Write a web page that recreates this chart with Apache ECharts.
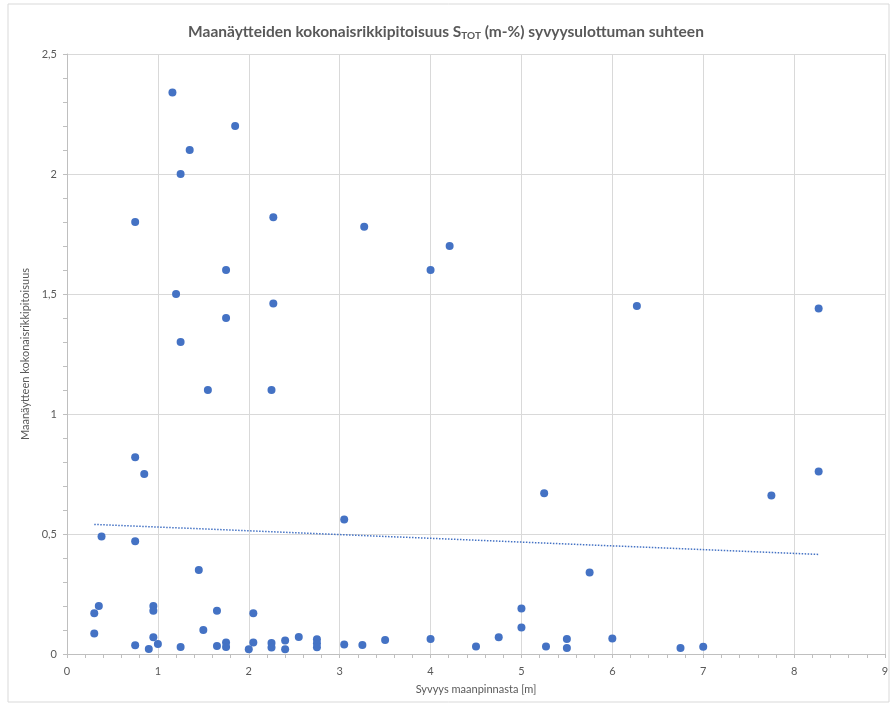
<!DOCTYPE html>
<html>
<head>
<meta charset="utf-8">
<script src="https://cdn.jsdelivr.net/npm/echarts@6/dist/echarts.min.js"></script>
<style>html,body{margin:0;padding:0;background:#fff;}#c{width:892px;height:709px;}</style>
</head>
<body>
<div id="c"></div>
<script>
// Depth [m]
const depth = [
  1.16, 1.85, 1.35, 1.25, 0.75, 2.27, 3.27, 4.21, 1.75, 4.0, 1.2, 2.27, 6.27, 8.27, 1.75, 1.25, 1.55, 2.25,
  0.75, 0.85, 8.27, 5.25, 7.75, 3.05, 0.38, 0.75, 1.45, 5.75,
  0.35, 0.3, 0.95, 0.95, 1.65, 2.05, 5.0, 0.3, 1.5, 5.0, 0.95,
  0.75, 0.9, 1.0, 1.25, 1.65, 1.75, 1.75, 2.0, 2.05, 2.25, 2.25, 2.4, 2.4, 2.55, 2.75, 2.75, 2.75,
  3.05, 3.25, 3.5, 4.0, 4.5, 4.75, 5.27, 5.5, 5.5, 6.0, 6.75, 7.0
];
// Total sulphur content S_TOT (m-%)
const sulphur = [
  2.34, 2.20, 2.10, 2.00, 1.80, 1.82, 1.78, 1.70, 1.60, 1.60, 1.50, 1.46, 1.45, 1.44, 1.40, 1.30, 1.10, 1.10,
  0.82, 0.75, 0.76, 0.67, 0.66, 0.56, 0.49, 0.47, 0.35, 0.34,
  0.20, 0.17, 0.20, 0.18, 0.18, 0.17, 0.19, 0.085, 0.10, 0.11, 0.07,
  0.036, 0.021, 0.042, 0.029, 0.033, 0.048, 0.029, 0.02, 0.048, 0.046, 0.027, 0.056, 0.02, 0.071, 0.061, 0.045, 0.028,
  0.04, 0.038, 0.058, 0.063, 0.031, 0.07, 0.031, 0.062, 0.025, 0.065, 0.025, 0.03
];
// Linear trendline as drawn in the reference
const trendDepth = [0.3, 8.27];
const trendValue = [0.54, 0.415];
const xTicks = [0, 1, 2, 3, 4, 5, 6, 7, 8, 9];
const yTicks = [0, 0.5, 1, 1.5, 2, 2.5];

const fmt = v => String(v).replace('.', ',');
const txt = '#595959';
const font = 'Lato, "Open Sans", sans-serif';

const chart = echarts.init(document.getElementById('c'), null, {renderer: 'canvas'});
chart.setOption({
  animation: false,
  backgroundColor: '#fff',
  graphic: [{
    type: 'rect', shape: {x: 8, y: 4, width: 881, height: 698},
    style: {fill: 'none', stroke: '#d9d9d9', lineWidth: 1}, silent: true, z: -1
  }],
  title: {
    text: '{a|Maanäytteiden kokonaisrikkipitoisuus S}{s|TOT}{a| (m-%) syvyysulottuman suhteen}',
    left: 'center', top: 18,
    textStyle: {
      rich: {
        a: {fontFamily: font, fontSize: 15.5, fontWeight: 'bold', color: txt},
        s: {fontFamily: font, fontSize: 10, fontWeight: 'bold', color: txt, verticalAlign: 'bottom', padding: [8, 0, 0, 0]}
      }
    }
  },
  grid: {left: 67, top: 54, width: 818, height: 600, containLabel: false},
  xAxis: {
    type: 'value', min: xTicks[0], max: xTicks[xTicks.length - 1], interval: 1,
    name: 'Syvyys maanpinnasta [m]', nameLocation: 'middle', nameGap: 30,
    nameTextStyle: {color: txt, fontFamily: font, fontSize: 11},
    axisLine: {show: true, lineStyle: {color: '#bfbfbf'}},
    axisTick: {show: true, length: 4, lineStyle: {color: '#bfbfbf'}},
    minorTick: {show: true, splitNumber: 5, length: 4, lineStyle: {color: '#bfbfbf'}},
    axisLabel: {color: txt, fontFamily: font, fontSize: 11, margin: 12, formatter: v => fmt(v)},
    splitLine: {show: true, lineStyle: {color: '#d9d9d9'}}
  },
  yAxis: {
    type: 'value', min: yTicks[0], max: yTicks[yTicks.length - 1], interval: 0.5,
    name: 'Maanäytteen kokonaisrikkipitoisuus', nameLocation: 'middle', nameGap: 26, nameRotate: 90,
    nameTextStyle: {color: txt, fontFamily: font, fontSize: 11},
    axisLine: {show: true, lineStyle: {color: '#bfbfbf'}},
    axisTick: {show: true, length: 4, lineStyle: {color: '#bfbfbf'}},
    minorTick: {show: true, splitNumber: 5, length: 4, lineStyle: {color: '#bfbfbf'}},
    axisLabel: {color: txt, fontFamily: font, fontSize: 11, margin: 10, formatter: v => fmt(v)},
    splitLine: {show: true, lineStyle: {color: '#d9d9d9'}}
  },
  series: [{
    type: 'scatter',
    data: depth.map((d, i) => [d, sulphur[i]]),
    symbol: 'circle', symbolSize: 8,
    itemStyle: {color: '#4472C4', opacity: 1}
  }, {
    type: 'line',
    data: trendDepth.map((d, i) => [d, trendValue[i]]),
    symbol: 'none',
    lineStyle: {color: '#4472C4', width: 1.5, type: [1.5, 1.5]},
    z: 1
  }]
});
</script>
</body>
</html>
